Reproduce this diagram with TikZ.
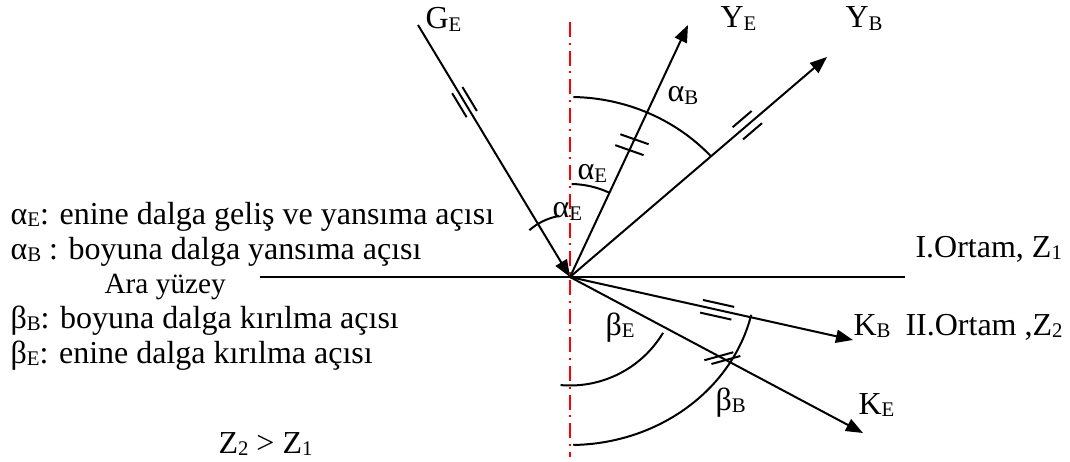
\documentclass[tikz,border=0pt]{standalone}
\usepackage{fontspec}
\setmainfont{Liberation Serif}
\usetikzlibrary{arrows.meta}
\newcommand{\altind}[1]{\raisebox{-1.1pt}{\fontsize{7.8}{8}\selectfont #1}}
\tikzset{
    isin/.style={line width=0.75pt},
    normalCizgi/.style={red, line width=0.55pt, dash pattern=on 5.6pt off 2.2pt on 0.75pt off 2.2pt},
    yay/.style={line width=0.75pt},
    isaret/.style={line width=0.75pt, -},
    etiket/.style={anchor=base west, inner sep=0pt},
    pics/paralel/.style 2 args={code={\draw[isaret] (-#1/2,#2)--(#1/2,#2) (-#1/2,-#2)--(#1/2,-#2);}},
    pics/capraz/.style 2 args={code={\draw[isaret] (-#2/2,0) ++(#1+180:15) -- ++(#1:30) (#2/2,0) ++(#1+180:15) -- ++(#1:30);}}
}

\begin{document}
\begin{tikzpicture}[x=0.375pt, y=0.375pt, >={Triangle[length=6.4pt, width=4.9pt]}, font=\fontsize{12}{14}\selectfont]
    \useasboundingbox (0,0) rectangle (1070,461);
    \coordinate (O) at (570,184);
    \coordinate (GE) at (418,436);  \coordinate (YE) at (688,436);
    \coordinate (YB) at (827,404);  \coordinate (KB) at (853,121);
    \coordinate (KE) at (863,28);
    \coordinate (SolUc) at (260,184);  \coordinate (SagUc) at (905,184);
    \coordinate (NormalUst) at (570,439);  \coordinate (NormalAlt) at (570,4);
    % ara yuzey ve normal
    \draw[isin] (SolUc)--(SagUc);
    \draw[normalCizgi] (NormalUst)--(NormalAlt);
    % dalgalar
    \draw[isin,->] (GE)--(O);
    \draw[isin,->] (O)--(YE);
    \draw[isin,->] (O)--(YB);
    \draw[isin,->] (O)--(KB);
    \draw[isin,->] (O)--(KE);
    \path (GE)--(O) pic[pos=0.306, sloped]{paralel={28}{6}};
    \path (O)--(YE) pic[pos=0.525, sloped]{capraz={-84.3}{12}};
    \path (O)--(YB) pic[pos=0.69, sloped]{paralel={25}{8}};
    \path (O)--(KB) pic[pos=0.52, sloped]{paralel={32}{6.5}};
    \path (O)--(KE) pic[pos=0.52, sloped]{capraz={43.5}{8}};
    % acilar
    \draw[yay] ([shift={(89:190 and 180)}]O) arc[start angle=89, end angle=42, x radius=190, y radius=180];
    \draw[yay] ([shift={(89:93)}]O) arc[start angle=89, end angle=65, radius=93];
    \draw[yay] ([shift={(131:62)}]O) arc[start angle=131, end angle=100, radius=62];
    \draw[yay] ([shift={(-95:108.5)}]O) arc[start angle=-95, end angle=-31, radius=108.5];
    \draw[yay] ([shift={(-89:186 and 168)}]O) arc[start angle=-89, end angle=-13, x radius=186, y radius=168];
    % etiketler
    \node[etiket] (GEyazi) at (425,432) {G\altind{E}};
    \node[etiket] (YEyazi) at (720,433) {Y\altind{E}};
    \node[etiket] (YByazi) at (845,433) {Y\altind{B}};
    \node[etiket] (aBacisi) at (667,359) {α\altind{B}};
    \node[etiket] (aEust) at (577,281) {α\altind{E}};
    \node[etiket] (aEalt) at (552,243) {α\altind{E}};
    \node[etiket] (bEacisi) at (605,126) {β\altind{E}};
    \node[etiket] (bBacisi) at (715,51) {β\altind{B}};
    \node[etiket] (KByazi) at (853,126) {K\altind{B}};
    \node[etiket] (KEyazi) at (858,47) {K\altind{E}};
    \node[etiket] (Ortam1) at (915,204) {I.Ortam, Z\altind{1}};
    \node[etiket] (Ortam2) at (905,126) {II.Ortam ,Z\altind{2}};
    \node[etiket] (Satir1) at (10,237) {α\altind{E}: enine dalga geliş ve yansıma açısı};
    \node[etiket] (Satir2) at (10,202) {α\altind{B} : boyuna dalga yansıma açısı};
    \node[etiket, font=\fontsize{11}{13}\selectfont] (AraYuzey) at (104,168) {Ara yüzey};
    \node[etiket] (Satir3) at (10,133) {β\altind{B}: boyuna dalga kırılma açısı};
    \node[etiket] (Satir4) at (10,98) {β\altind{E}: enine dalga kırılma açısı};
    \node[etiket] (Zkiyas) at (218,8) {Z\altind{2} > Z\altind{1}};
\end{tikzpicture}
\end{document}
